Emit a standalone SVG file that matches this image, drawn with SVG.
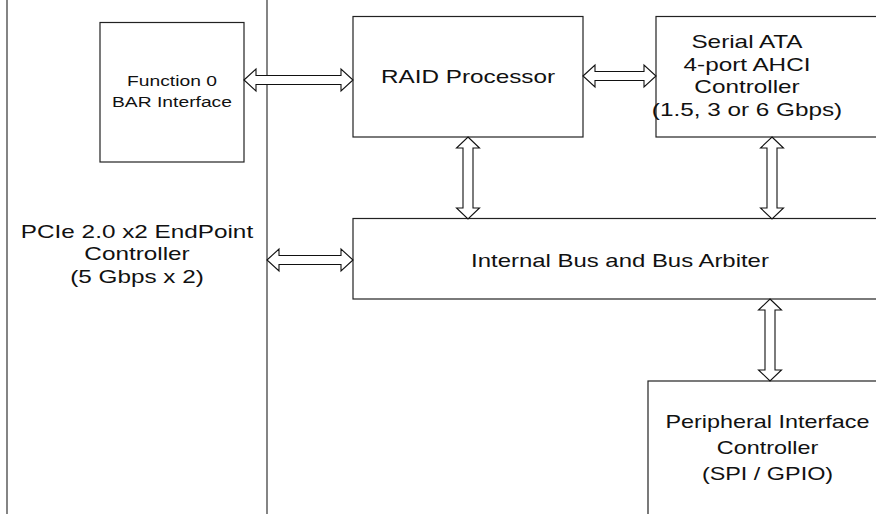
<svg xmlns="http://www.w3.org/2000/svg" width="876" height="514" viewBox="0 0 876 514">
<style>
.box{fill:#fff;stroke:#222;stroke-width:1.2}
.side{stroke:#666;stroke-width:1.6;fill:none}
.arr{fill:#fff;stroke:#111;stroke-width:1.1;stroke-linejoin:miter}
text{font-family:"Liberation Sans",Arial,sans-serif;fill:#111;text-anchor:middle}
.t18{font-size:18px}
.t14{font-size:14.5px}
</style>
<rect width="876" height="514" fill="#fff"/>
<g id="pcie">
<line class="side" x1="7" y1="0" x2="7" y2="514"/>
<line class="side" x1="267" y1="0" x2="267" y2="514"/>
<text class="t18" transform="translate(137,237.5) scale(1.35,1)">PCIe 2.0 x2 EndPoint</text>
<text class="t18" transform="translate(137,260) scale(1.35,1)">Controller</text>
<text class="t18" transform="translate(137,282.5) scale(1.35,1)">(5 Gbps x 2)</text>
</g>
<g id="func0">
<rect class="box" x="100" y="22.5" width="144" height="139.5"/>
<text class="t14" transform="translate(172,86) scale(1.33,1)">Function 0</text>
<text class="t14" transform="translate(172,107) scale(1.33,1)">BAR Interface</text>
</g>
<g id="raid">
<rect class="box" x="353" y="16.5" width="230" height="120.5"/>
<text class="t18" transform="translate(468,83) scale(1.35,1)">RAID Processor</text>
</g>
<g id="sata">
<rect class="box" x="656" y="16.5" width="240" height="120.5"/>
<text class="t18" transform="translate(747,47.5) scale(1.35,1)">Serial ATA</text>
<text class="t18" transform="translate(747,70.5) scale(1.35,1)">4-port AHCI</text>
<text class="t18" transform="translate(747,93) scale(1.35,1)">Controller</text>
<text class="t18" transform="translate(747,116) scale(1.35,1)">(1.5, 3 or 6 Gbps)</text>
</g>
<g id="bus">
<rect class="box" x="353" y="218.5" width="540" height="80.5"/>
<text class="t18" transform="translate(620,267) scale(1.33,1)">Internal Bus and Bus Arbiter</text>
</g>
<g id="periph">
<rect class="box" x="648" y="381" width="250" height="150"/>
<text class="t18" transform="translate(767.5,428) scale(1.3,1)">Peripheral Interface</text>
<text class="t18" transform="translate(767.5,454) scale(1.3,1)">Controller</text>
<text class="t18" transform="translate(767.5,480) scale(1.3,1)">(SPI / GPIO)</text>
</g>
<g id="connectors">
<polygon class="arr" points="244,80 256,69 256,75.5 341,75.5 341,69 353,80 341,91 341,84.5 256,84.5 256,91"/>
<polygon class="arr" points="583,76 595,65 595,71.5 644,71.5 644,65 656,76 644,87 644,80.5 595,80.5 595,87"/>
<polygon class="arr" points="267,260 279,249 279,255.5 341,255.5 341,249 353,260 341,271 341,264.5 279,264.5 279,271"/>
<polygon class="arr" points="468,137 479.5,148 473,148 473,208 479.5,208 468,219 456.5,208 463,208 463,148 456.5,148"/>
<polygon class="arr" points="772,137 783.5,148 777,148 777,208 783.5,208 772,219 760.5,208 767,208 767,148 760.5,148"/>
<polygon class="arr" points="770,299 781.5,310 775,310 775,370 781.5,370 770,381 758.5,370 765,370 765,310 758.5,310"/>
</g>
</svg>
